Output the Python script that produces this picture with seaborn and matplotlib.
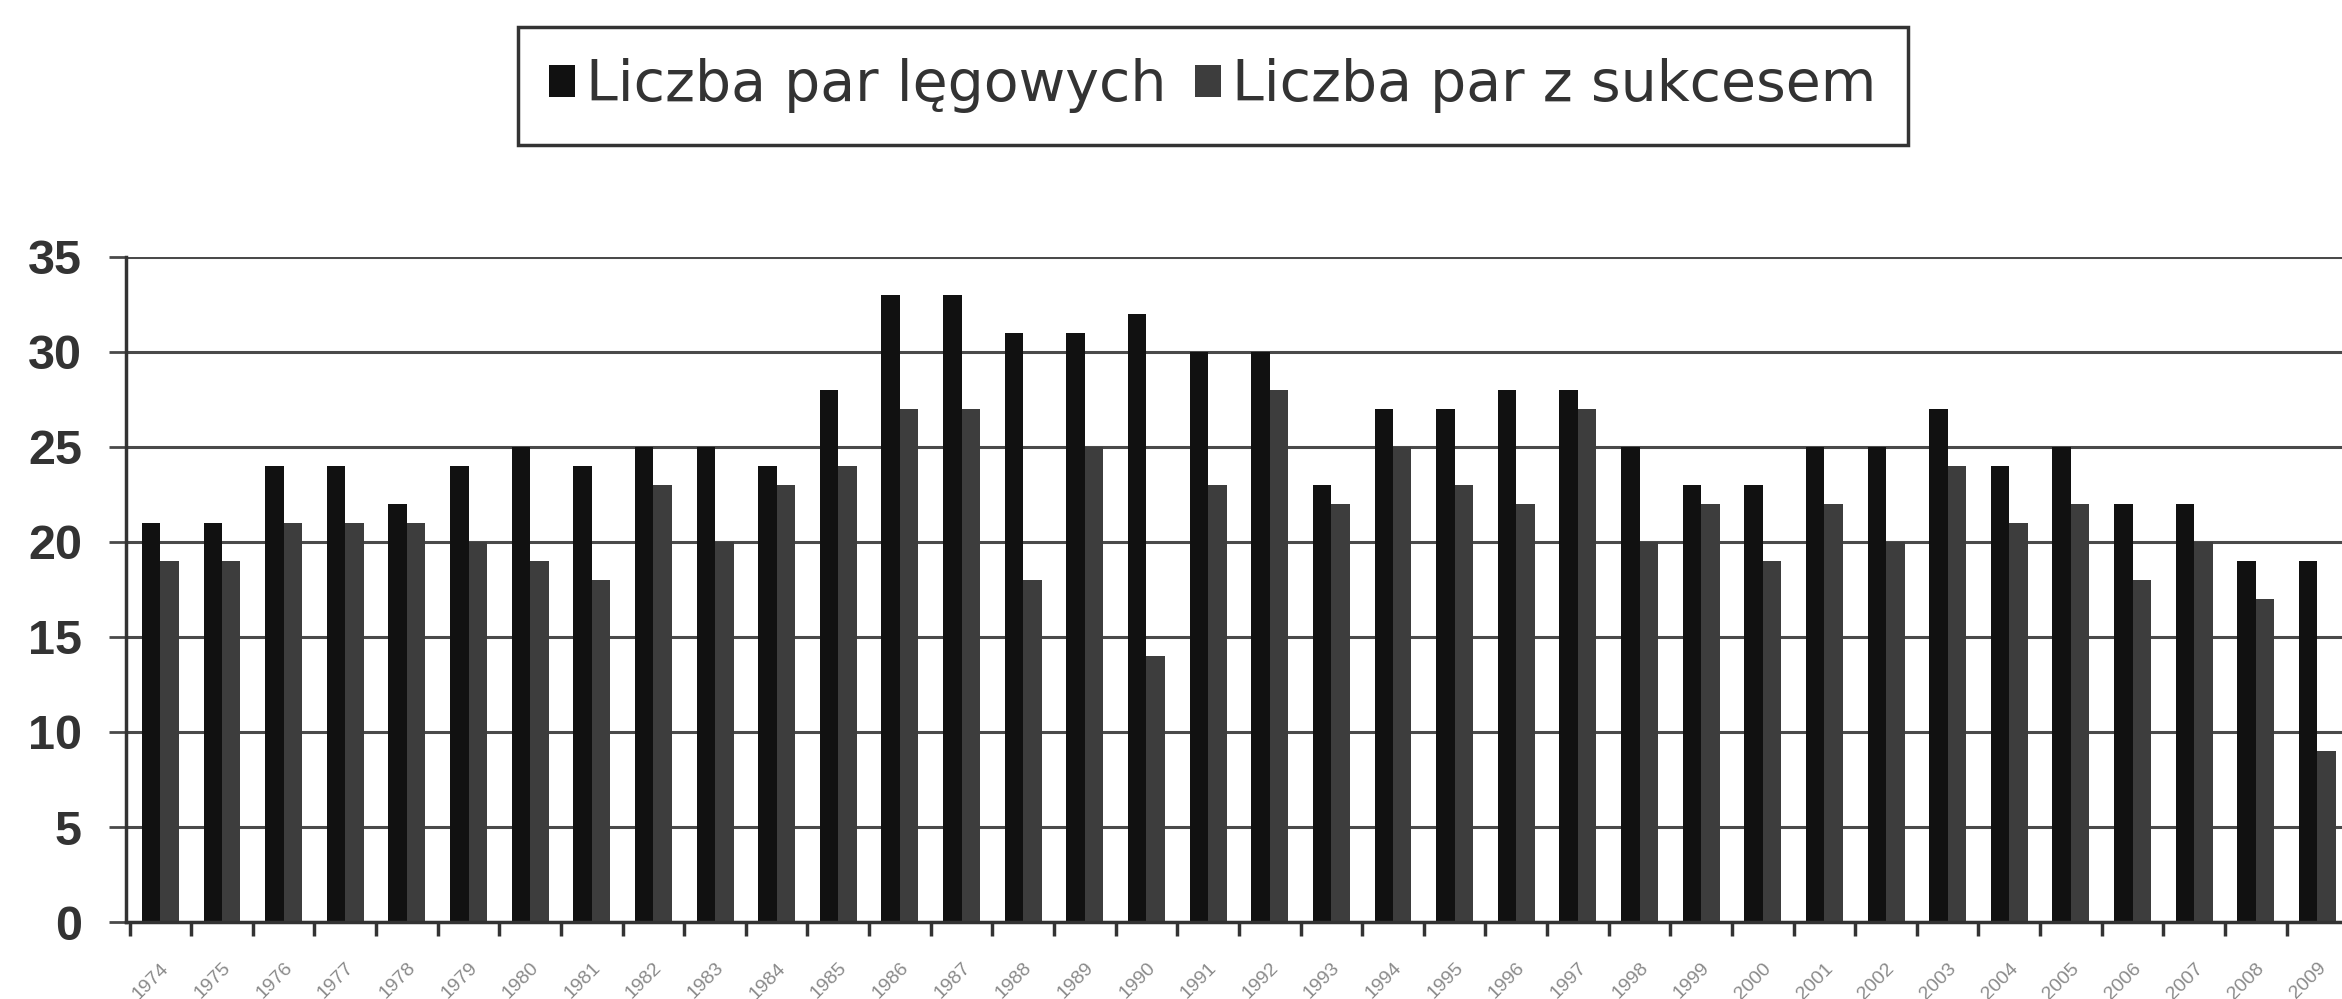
import matplotlib
matplotlib.use("Agg")
import matplotlib.pyplot as plt
import numpy as np
import pandas as pd
import seaborn as sns

# Years on the x axis (labels in the scan are barely legible)
years = [str(y) for y in range(1974, 2010)]

# Liczba par lęgowych
breeding_pairs = [21, 21, 24, 24, 22, 24, 25, 24, 25, 25, 24, 28,
                  33, 33, 31, 31, 32, 30, 30, 23, 27, 27, 28, 28,
                  25, 23, 23, 25, 25, 27, 24, 25, 22, 22, 19, 19]

# Liczba par z sukcesem
successful_pairs = [19, 19, 21, 21, 21, 20, 19, 18, 23, 20, 23, 24,
                    27, 27, 18, 25, 14, 23, 28, 22, 25, 23, 22, 27,
                    20, 22, 19, 22, 20, 24, 21, 22, 18, 20, 17, 9]

series_names = ["Liczba par lęgowych", "Liczba par z sukcesem"]
colors = ["#111111", "#3d3d3d"]

df = pd.DataFrame({
    "rok": years * 2,
    "liczba": breeding_pairs + successful_pairs,
    "seria": [series_names[0]] * len(years) + [series_names[1]] * len(years),
})

sns.set_style("white")
plt.rcParams["font.family"] = ["Liberation Sans", "DejaVu Sans"]

fig = plt.figure(figsize=(23.42, 9.99), dpi=100)
ax = fig.add_axes([0.054, 0.077, 0.95, 0.666])

sns.barplot(data=df, x="rok", y="liczba", hue="seria", order=years,
            hue_order=series_names, palette=colors, width=0.6,
            saturation=1, linewidth=0, ax=ax, legend=True)

# Axes styling, Excel look
ax.set_ylim(0, 35)
ax.set_xlim(-0.55, len(years) - 0.45)
ax.set_yticks(range(0, 36, 5))
ax.yaxis.grid(True, color="#4a4a4a", linewidth=2.2)
ax.set_axisbelow(True)
for side in ["top", "right"]:
    ax.spines[side].set_visible(False)
for side in ["left", "bottom"]:
    ax.spines[side].set_color("#333333")
    ax.spines[side].set_linewidth(2.5)
ax.tick_params(axis="y", length=12, width=2, color="#4a4a4a", pad=20,
               labelsize=35, labelcolor="#333333", left=True)
for lbl in ax.get_yticklabels():
    lbl.set_fontweight("bold")

# x: ticks between groups, labels under groups
ax.set_xticks(np.arange(len(years)))
ax.set_xticks(np.arange(len(years)) - 0.5, minor=True)
ax.tick_params(axis="x", which="major", length=0, pad=27)
ax.tick_params(axis="x", which="minor", length=10, width=2.5,
               color="#333333", bottom=True)
ax.set_xticklabels(years, rotation=45, ha="right", rotation_mode="anchor",
                   fontsize=14, color="#8a8a8a")
ax.set_xlabel("")
ax.set_ylabel("")

# Legend box on top
handles, labels = ax.get_legend_handles_labels()
ax.get_legend().remove()
fig.legend(handles, labels, loc="upper center", bbox_to_anchor=(0.518, 0.973),
           ncol=2, frameon=True, fancybox=False, edgecolor="#333333",
           framealpha=1, prop={"family": "DejaVu Sans", "size": 41},
           labelcolor="#333333", handlelength=0.45, handleheight=0.5,
           handletextpad=0.2, columnspacing=0.5, borderpad=0.55,
           borderaxespad=0)
fig.legends[0].get_frame().set_linewidth(2.5)

fig.savefig("out.png", dpi=100, facecolor="white")
